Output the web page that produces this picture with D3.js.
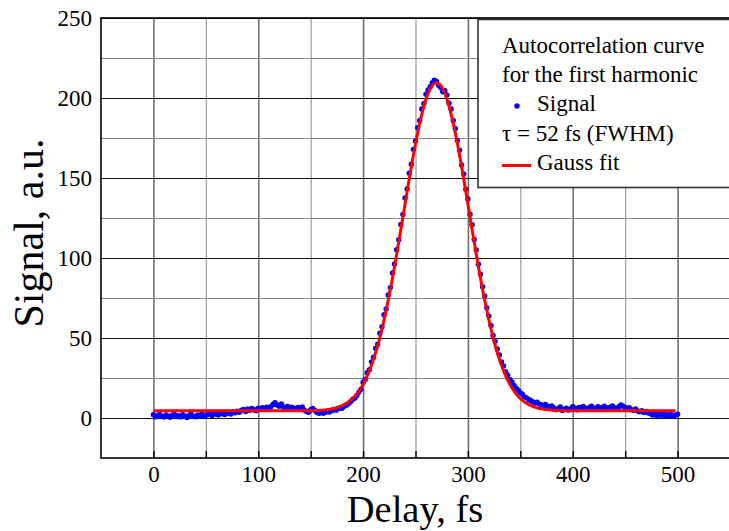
<!DOCTYPE html>
<html>
<head>
<meta charset="utf-8">
<script src="https://cdn.jsdelivr.net/npm/d3@7"></script>
<style>
body { margin: 0; background: #ffffff; }
text { font-family: "Liberation Serif", "Times New Roman", serif; fill: #000; }
</style>
</head>
<body>
<script>
var width = 729;
var height = 531;
var margin = {top: 18, left: 101, bottom: 73};

// segnale misurato, un punto ogni 2 fs da 0 a 500 fs
var signalStep = 2;
var signalValues = [
	2.1, 0.8, 1.5, 2.4, 1.0, 0.6, 1.9, 1.2, 0.4, 1.7, 2.2, 0.9, 1.4, 0.7, 2.0, 1.1, 0.3, 1.6, 2.5, 1.0, 0.8, 1.8, 1.3, 2.6, 0.9, 1.7,
	2.0, 2.8, 1.6, 3.1, 2.3, 1.9, 3.4, 2.7, 2.2, 3.6, 3.0, 2.5, 3.9, 3.3,
	4.2, 3.6, 4.9, 5.3, 4.1, 5.6, 4.8, 5.9, 5.2, 4.6, 6.1, 5.5, 6.4, 5.8, 6.8, 6.2, 7.1,
	8.4, 9.6, 8.1, 7.4, 8.8, 7.0,
	6.5, 7.2, 5.9, 6.8, 6.1, 5.4, 6.6, 5.8, 6.9,
	4.8, 4.1, 3.6, 5.2, 5.9, 4.7, 3.4, 3.0, 3.8, 2.9, 3.5, 4.2, 3.7, 4.6,
	5.3, 4.9, 5.8, 6.4, 6.1, 7.3, 8.0, 8.9, 10.2, 11.6, 12.4, 14.1, 16.2, 18.0,
	22.4, 24.1, 28.3, 30.2, 35.1, 38.0, 43.6, 46.2, 53.0, 57.1, 64.5, 68.2, 76.9, 81.5, 90.6, 96.3,
	105.2, 111.4, 121.0, 127.2, 137.5, 143.1, 153.0, 158.6, 167.9, 173.2, 181.4, 186.0, 193.1, 196.5,
	202.3, 205.0, 207.1, 209.6, 211.2, 210.4, 208.0, 206.5, 203.9, 204.6, 201.8, 196.7, 193.2, 185.9,
	181.0, 173.5, 167.3, 158.2, 152.6, 143.0, 136.9, 127.4, 120.8, 111.6, 105.0, 96.1, 89.9, 82.0,
	76.2, 68.9, 63.7, 57.8, 51.6, 47.9, 43.2, 39.4, 35.1, 32.6, 29.0, 26.8, 24.1,
	22.5, 20.3, 18.7, 17.4, 15.6, 14.8, 13.2, 12.6, 11.4, 10.9, 10.1, 9.4, 9.8, 8.7, 8.3, 7.6, 8.5, 7.2, 6.8, 7.5,
	6.3, 5.1, 5.8, 6.9, 4.7, 5.5, 6.2, 4.9, 5.6, 7.0, 6.1, 5.2, 6.6, 5.4, 7.2, 6.0, 5.3, 6.8, 7.4, 6.2,
	5.6, 7.1, 6.4, 5.8, 7.3, 6.5, 5.9, 6.9, 7.6, 6.3, 5.7, 7.0, 8.2, 7.4,
	6.6, 5.9, 6.4, 5.2, 4.8, 5.7, 4.4, 3.9, 4.6, 3.5, 4.1, 3.2,
	2.8, 1.9, 2.5, 1.4, 2.2, 1.7, 2.9, 1.2, 2.0, 1.6, 2.4, 1.1, 1.8, 2.3
];

// curva gaussiana
var fitDelay = [0, 50, 100, 150, 160, 170, 175, 180, 185, 190, 195, 200, 205, 210, 215, 220, 225, 230, 235, 240,
	245, 250, 255, 260, 265, 270, 275, 280, 285, 290, 295, 300, 305, 310, 315, 320, 325, 330, 335, 340,
	345, 350, 355, 360, 365, 370, 380, 390, 400, 450, 498];
var fitValue = [4.5, 4.5, 4.5, 4.6, 4.9, 5.7, 6.5, 7.7, 9.5, 12.2, 15.9, 21.0, 27.9, 36.8, 47.8, 61.3, 77.0, 94.6, 113.8, 133.6,
	153.2, 171.4, 187.1, 199.2, 206.9, 209.5, 206.9, 199.2, 187.1, 171.4, 153.2, 133.6, 113.8, 94.6, 77.0, 61.3, 47.8, 36.8, 27.9, 21.0,
	15.9, 12.2, 9.5, 7.7, 6.5, 5.7, 4.9, 4.6, 4.5, 4.5, 4.5];

var xTicks = [0, 100, 200, 300, 400, 500];
var xMinorTicks = [50, 150, 250, 350, 450];
var yTicks = [0, 50, 100, 150, 200, 250];
var yMinorTicks = [25, 75, 125, 175, 225];

var legendTitle = ["Autocorrelation curve", "for the first harmonic"];
var legendSignal = "Signal";
var legendTau = "\u03c4 = 52 fs (FWHM)";
var legendFit = "Gauss fit";

var xLabel = "Delay, fs";
var yLabel = "Signal, a.u.";

var signalData = signalValues.map(function (v, i) {
	return {delay: i * signalStep, value: v};
});
var fitData = fitDelay.map(function (d, i) {
	return {delay: d, value: fitValue[i]};
});

var plotBottom = height - margin.bottom;

var x = d3.scaleLinear().domain([-50, 550]).range([margin.left, 730]);
var y = d3.scaleLinear().domain([-25, 250]).range([plotBottom, margin.top]);

var svg = d3.select("body").append("svg")
	.attr("width", width)
	.attr("height", height);

svg.append("rect")
	.attr("width", width)
	.attr("height", height)
	.attr("fill", "#ffffff");

//griglia verticale
svg.append("g")
	.attr("transform", "translate(0," + plotBottom + ")")
	.call(d3.axisBottom(x).tickValues(xMinorTicks).tickSize(-(plotBottom - margin.top)).tickFormat(""))
	.call(function (g) { g.select(".domain").remove(); })
	.selectAll("line").attr("stroke", "#9a9a9a").attr("stroke-width", 1.2);

svg.append("g")
	.attr("transform", "translate(0," + plotBottom + ")")
	.call(d3.axisBottom(x).tickValues(xTicks).tickSize(-(plotBottom - margin.top)).tickFormat(""))
	.call(function (g) { g.select(".domain").remove(); })
	.selectAll("line").attr("stroke", "#707070").attr("stroke-width", 1.6);

//griglia orizzontale
svg.append("g")
	.attr("transform", "translate(" + margin.left + ",0)")
	.call(d3.axisLeft(y).tickValues(yMinorTicks).tickSize(-(730 - margin.left)).tickFormat(""))
	.call(function (g) { g.select(".domain").remove(); })
	.selectAll("line").attr("stroke", "#8a8a8a").attr("stroke-width", 1.2);

svg.append("g")
	.attr("transform", "translate(" + margin.left + ",0)")
	.call(d3.axisLeft(y).tickValues(yTicks).tickSize(-(730 - margin.left)).tickFormat(""))
	.call(function (g) { g.select(".domain").remove(); })
	.selectAll("line").attr("stroke", "#111111").attr("stroke-width", 1.2);

//tacche interne sugli assi
svg.append("g")
	.attr("transform", "translate(0," + plotBottom + ")")
	.call(d3.axisBottom(x).tickValues(xTicks.concat(xMinorTicks)).tickSize(-7).tickFormat(""))
	.call(function (g) { g.select(".domain").remove(); })
	.selectAll("line").attr("stroke", "#000").attr("stroke-width", 1.4);

//cornice
svg.append("rect")
	.attr("x", margin.left)
	.attr("y", margin.top)
	.attr("width", 730 - margin.left)
	.attr("height", plotBottom - margin.top)
	.attr("fill", "none")
	.attr("stroke", "#000")
	.attr("stroke-width", 1.6);

//etichette degli assi
svg.append("g")
	.attr("transform", "translate(0," + plotBottom + ")")
	.call(d3.axisBottom(x).tickValues(xTicks).tickSize(0).tickPadding(8))
	.call(function (g) { g.select(".domain").remove(); })
	.selectAll("text")
	.attr("font-family", "Liberation Serif")
	.attr("font-size", 23);

svg.append("g")
	.attr("transform", "translate(" + margin.left + ",0)")
	.call(d3.axisLeft(y).tickValues(yTicks).tickSize(0).tickPadding(9))
	.call(function (g) { g.select(".domain").remove(); })
	.selectAll("text")
	.attr("font-family", "Liberation Serif")
	.attr("font-size", 23);

svg.append("text")
	.attr("x", 415)
	.attr("y", 522)
	.attr("text-anchor", "middle")
	.attr("font-size", 38.5)
	.text(xLabel);

svg.append("text")
	.attr("transform", "translate(43,233) rotate(-90)")
	.attr("text-anchor", "middle")
	.attr("font-size", 42)
	.text(yLabel);

//punti del segnale
svg.append("g")
	.selectAll("circle")
	.data(signalData)
	.enter()
	.append("circle")
	.attr("cx", function (d) { return x(d.delay); })
	.attr("cy", function (d) { return y(d.value); })
	.attr("r", 2.7)
	.attr("fill", "#0000ff");

//curva di fit
svg.append("path")
	.datum(fitData)
	.attr("d", d3.line()
		.x(function (d) { return x(d.delay); })
		.y(function (d) { return y(d.value); })
		.curve(d3.curveMonotoneX))
	.attr("fill", "none")
	.attr("stroke", "#ff0000")
	.attr("stroke-width", 3);

//legenda
var legend = svg.append("g");

legend.append("rect")
	.attr("x", 478)
	.attr("y", 19.5)
	.attr("width", 270)
	.attr("height", 168)
	.attr("fill", "#ffffff")
	.attr("stroke", "#333333")
	.attr("stroke-width", 1.6);

legend.selectAll("text.title")
	.data(legendTitle)
	.enter()
	.append("text")
	.attr("class", "title")
	.attr("x", 502)
	.attr("y", function (d, i) { return 53 + i * 29; })
	.attr("font-size", 23)
	.text(function (d) { return d; });

legend.append("circle")
	.attr("cx", 517)
	.attr("cy", 106)
	.attr("r", 2.7)
	.attr("fill", "#0000ff");

legend.append("text")
	.attr("x", 537)
	.attr("y", 111)
	.attr("font-size", 23)
	.text(legendSignal);

legend.append("text")
	.attr("x", 502)
	.attr("y", 141)
	.attr("font-size", 23)
	.text(legendTau);

legend.append("line")
	.attr("x1", 502)
	.attr("x2", 531)
	.attr("y1", 165.5)
	.attr("y2", 165.5)
	.attr("stroke", "#ff0000")
	.attr("stroke-width", 3);

legend.append("text")
	.attr("x", 537)
	.attr("y", 170)
	.attr("font-size", 23)
	.text(legendFit);
</script>
</body>
</html>
